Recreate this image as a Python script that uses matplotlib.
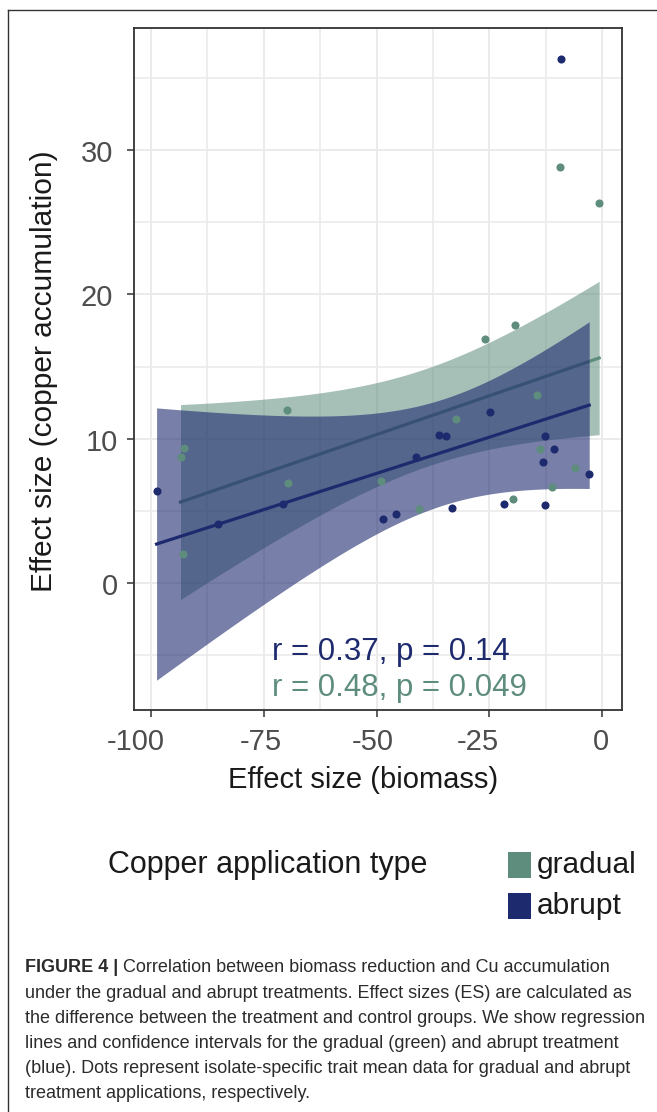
import numpy as np
import matplotlib
matplotlib.use("Agg")
import matplotlib.pyplot as plt
import matplotlib.transforms as mtransforms
from matplotlib.patches import Rectangle
from matplotlib.lines import Line2D

plt.rcParams['font.family'] = ['Liberation Sans', 'DejaVu Sans']

# ---------------- data ----------------
grad_x = [-9.4, -0.7, -19.4, -25.9, -69.9, -92.6, -93.4, -92.9, -69.7, -49.0,
          -40.5, -32.3, -19.7, -14.4, -13.8, -6.1, -11.1]
grad_y = [28.8, 26.3, 17.9, 16.9, 12.0, 9.38, 8.76, 1.99, 6.93, 7.09,
          5.10, 11.34, 5.82, 13.03, 9.26, 7.95, 6.65]
abr_x = [-9.1, -98.7, -85.0, -70.6, -48.5, -45.6, -41.2, -36.1, -34.7, -33.3,
         -24.9, -21.7, -12.7, -10.8, -13.1, -2.9, -12.7]
abr_y = [36.3, 6.35, 4.09, 5.45, 4.41, 4.80, 8.73, 10.28, 10.21, 5.20,
         11.85, 5.50, 10.19, 9.29, 8.39, 7.58, 5.43]
x_ticks = [-100, -75, -50, -25, 0]
y_ticks = [0, 10, 20, 30]
stat_labels = ["r = 0.37, p = 0.14", "r = 0.48, p = 0.049"]
legend_labels = ["gradual", "abrupt"]
T_CRIT_DF15 = 2.131  # 97.5% t quantile, df = 15

# layout nudges (pixels) for tick labels, as rendered in the reference
x_label_nudge = [-15, -2.5, -4, -12, -1.7]
y_label_right = [118, 118, 113, 113]

GREEN = "#5E8D7E"
NAVY = "#1E2A6E"
TXT = '#1A1A1A'
TICKTXT = '#4D4D4D'

fig = plt.figure(figsize=(6.57, 11.12), dpi=100)
W, H = 657.0, 1112.0
AX_L, AX_R, AX_T, AX_B = 134, 622, 28, 710
ax = fig.add_axes([AX_L / W, 1 - AX_B / H, (AX_R - AX_L) / W, (AX_B - AX_T) / H])


def fit_band(x, y):
    x = np.asarray(x, float)
    y = np.asarray(y, float)
    n = len(x)
    b, a = np.polyfit(x, y, 1)
    xs = np.linspace(x.min(), x.max(), 200)
    yhat = a + b * xs
    resid = y - (a + b * x)
    s = np.sqrt(np.sum(resid ** 2) / (n - 2))
    sxx = np.sum((x - x.mean()) ** 2)
    se = s * np.sqrt(1.0 / n + (xs - x.mean()) ** 2 / sxx)
    return xs, yhat, yhat - T_CRIT_DF15 * se, yhat + T_CRIT_DF15 * se


# gradual smooth
xs, yh, lo, hi = fit_band(grad_x, grad_y)
ax.fill_between(xs, lo, hi, color=GREEN, alpha=0.55, linewidth=0, zorder=2)
ax.plot(xs, yh, color=GREEN, lw=2.3, zorder=3)
# abrupt smooth
xs, yh, lo, hi = fit_band(abr_x, abr_y)
ax.fill_between(xs, lo, hi, color=NAVY, alpha=0.6, linewidth=0, zorder=4)
ax.plot(xs, yh, color=NAVY, lw=2.3, zorder=5)

ax.scatter(grad_x, grad_y, s=34, color=GREEN, linewidths=0, zorder=6)
ax.scatter(abr_x, abr_y, s=34, color=NAVY, linewidths=0, zorder=6)

ax.text(-73.1, -4.78, stat_labels[0], color=NAVY, fontsize=22.5, va='center', ha='left', zorder=7)
ax.text(-73.1, -7.28, stat_labels[1], color=GREEN, fontsize=22.5, va='center', ha='left', zorder=7)

ax.set_xlim(-103.7, 4.36)
ax.set_ylim(-8.8, 38.46)
ax.set_xticks(x_ticks)
ax.set_yticks(y_ticks)
ax.set_xticklabels([])
ax.set_yticklabels([])
ax.set_xticks([-87.5, -62.5, -37.5, -12.5], minor=True)
ax.set_yticks([-5, 5, 15, 25, 35], minor=True)
ax.grid(True, which='major', color='#EBEBEB', lw=1.4, zorder=0)
ax.grid(True, which='minor', color='#EBEBEB', lw=1.2, zorder=0)
ax.set_axisbelow(True)
ax.tick_params(which='major', length=4.8, width=1.1, color='#333333')
ax.tick_params(which='minor', length=0)
for sp in ax.spines.values():
    sp.set_color('#333333')
    sp.set_linewidth(1.3)

# tick labels (placed as in the reference)
for t, dx in zip(x_ticks, x_label_nudge):
    tr = mtransforms.offset_copy(ax.get_xaxis_transform(), fig=fig, x=dx, y=-29, units='dots')
    ax.text(t, 0, str(t), transform=tr, ha='center', va='center_baseline',
            fontsize=21, color=TICKTXT, clip_on=False)
for t, xr in zip(y_ticks, y_label_right):
    tr = mtransforms.offset_copy(ax.get_yaxis_transform(), fig=fig, x=xr - AX_L, y=-1, units='dots')
    ax.text(0, t, str(t), transform=tr, ha='right', va='center_baseline',
            fontsize=21, color=TICKTXT, clip_on=False)

ax.set_xlabel("Effect size (biomass)", fontsize=21, color=TXT)
ax.xaxis.set_label_coords(0.469, -0.082)
ax.set_ylabel("Effect size (copper accumulation)", fontsize=21.5, color=TXT)
ax.yaxis.set_label_coords(-0.156, 0.497)

# ---------------- legend ----------------
fig.text(108 / W, 1 - 865 / H, "Copper application type", fontsize=22, color=TXT,
         ha='left', va='center')
for i, (lab, col) in enumerate(zip(legend_labels, [GREEN, NAVY])):
    y0 = 852 + i * 41
    fig.add_artist(Rectangle((508 / W, 1 - (y0 + 26) / H), 23 / W, 26 / H,
                             transform=fig.transFigure, color=col, lw=0))
    fig.text(537 / W, 1 - (y0 + 13) / H, lab, fontsize=21.5, color=TXT,
             ha='left', va='center')

# ---------------- outer frame ----------------
fig.add_artist(Line2D([8 / W, 8 / W], [0, 1 - 10 / H], transform=fig.transFigure,
                      color='#333333', lw=1.0))
fig.add_artist(Line2D([8 / W, 1], [1 - 10 / H, 1 - 10 / H], transform=fig.transFigure,
                      color='#333333', lw=1.0))

# ---------------- caption ----------------
cap_size = 13.0
CAPC = '#2B2B2B'
cap_lines = [
    "Correlation between biomass reduction and Cu accumulation",
    "under the gradual and abrupt treatments. Effect sizes (ES) are calculated as",
    "the difference between the treatment and control groups. We show regression",
    "lines and confidence intervals for the gradual (green) and abrupt treatment",
    "(blue). Dots represent isolate-specific trait mean data for gradual and abrupt",
    "treatment applications, respectively.",
]
for i, line in enumerate(cap_lines):
    yc = 1 - (968 + i * 25.2) / H
    if i == 0:
        bold = fig.text(25 / W, yc, "FIGURE 4 | ", fontsize=cap_size, fontweight='bold',
                        color=CAPC, ha='left', va='center')
        fig.add_artist(matplotlib.text.Annotation(
            line, xy=(1, 0.5), xycoords=bold, va='center', ha='left',
            fontsize=cap_size, color=CAPC, annotation_clip=False))
    else:
        fig.text(25 / W, yc, line, fontsize=cap_size, color=CAPC,
                 ha='left', va='center')

fig.savefig("out.png", dpi=100)
